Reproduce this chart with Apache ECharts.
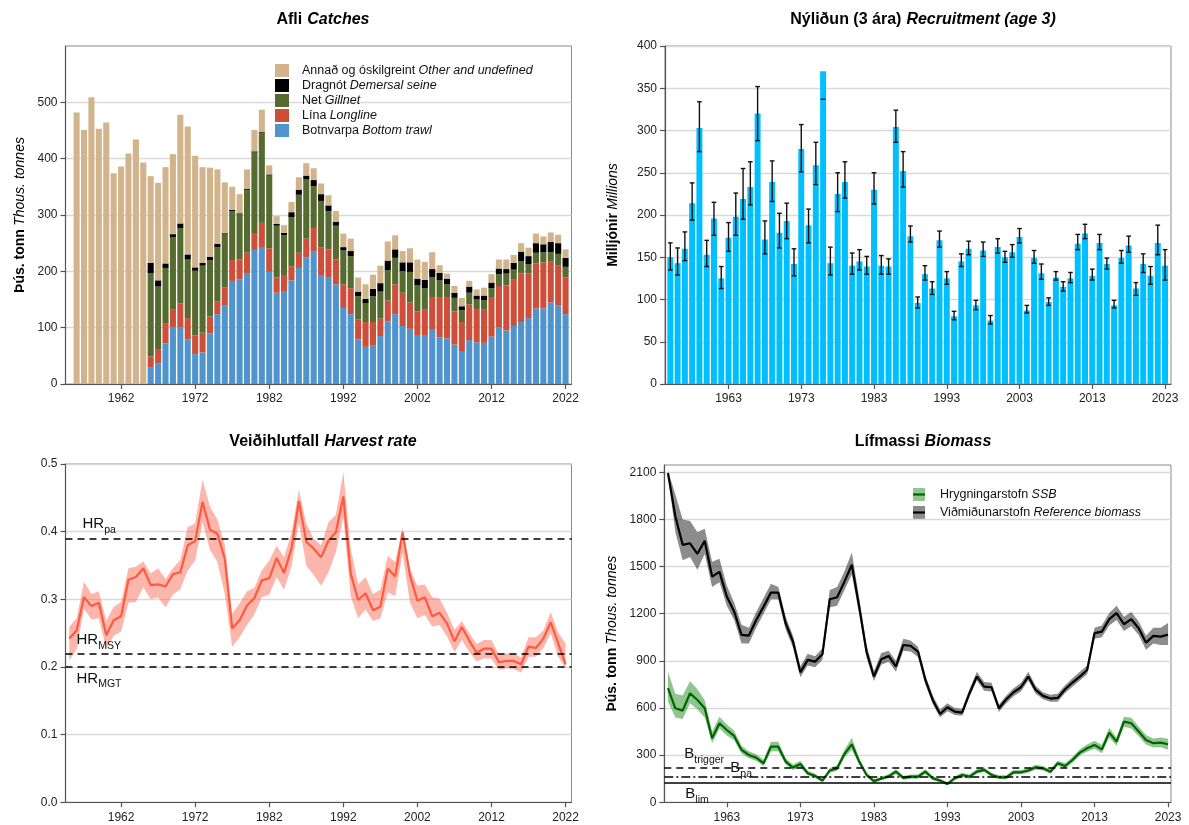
<!DOCTYPE html>
<html>
<head>
<meta charset="utf-8">
<script src="https://cdn.jsdelivr.net/npm/echarts@6/dist/echarts.min.js"></script>
<style>
  html, body { margin: 0; padding: 0; background: #fff; }
  #chart { width: 1189px; height: 825px; }
</style>
</head>
<body>
<div id="chart"></div>
<script>
const range = (a, b) => Array.from({ length: b - a + 1 }, (_, i) => a + i)

// Afli / Catches (thous. tonnes)
const catchYears = range(1956, 2022)
const gearYears = range(1966, 2022)
const catchOther = [
  482, 451, 509, 453, 464, 374, 386, 409, 434, 393,
  154, 173, 171, 142, 193, 227, 198, 170, 158, 132,
  90, 41, 34, 35, 38, 40, 16, 14, 14, 18,
  22, 22, 21, 19, 18, 19, 24, 22, 25, 26,
  25, 31, 34, 25, 20, 25, 34, 32, 30, 14,
  9, 12, 15, 10, 11, 14, 15, 16, 17, 14,
  15, 15, 17, 14, 17, 15, 15,
]
const catchTrawl = [
  30, 36, 72, 100, 100, 79, 53, 56, 90, 124,
  140, 183, 186, 197, 238, 243, 199, 162, 165, 184,
  206, 225, 235, 192, 190, 177, 135, 124, 79, 66,
  69, 85, 111, 124, 103, 98, 87, 87, 96, 83,
  81, 70, 57, 78, 74, 73, 84, 100, 95, 103,
  110, 117, 134, 134, 145, 140, 124,
]
const catchLongline = [
  19, 26, 35, 33, 43, 38, 33, 35, 30, 23,
  31, 37, 35, 36, 30, 43, 42, 27, 27, 25,
  27, 33, 42, 50, 49, 44, 42, 46, 36, 44,
  41, 31, 37, 53, 59, 47, 42, 46, 57, 70,
  72, 59, 53, 63, 59, 60, 69, 74, 80, 82,
  86, 79, 80, 82, 72, 71, 65,
]
const catchGillnet = [
  148, 111, 99, 128, 134, 104, 115, 119, 100, 96,
  96, 87, 80, 111, 143, 159, 129, 92, 72, 87,
  103, 105, 74, 83, 68, 60, 60, 57, 41, 33,
  46, 48, 54, 47, 38, 54, 46, 37, 37, 31,
  24, 24, 21, 21, 17, 16, 17, 21, 21, 18,
  22, 17, 19, 18, 17, 20, 19,
]
const catchSeine = [
  18, 11, 8, 5, 8, 9, 6, 5, 6, 6,
  1, 2, 2, 2, 2, 2, 2, 3, 4, 9,
  9, 7, 11, 12, 10, 7, 6, 9, 8, 8,
  13, 15, 17, 15, 16, 17, 12, 15, 14, 13,
  10, 9, 7, 11, 7, 8, 10, 10, 8, 12,
  17, 14, 17, 14, 18, 19, 16,
]
const catchTicks = [1962, 1972, 1982, 1992, 2002, 2012, 2022]
const catchAxisTicks = [0, 100, 200, 300, 400, 500]

// Nýliðun / Recruitment, age 3 (millions)
const recYears = range(1955, 2023)
const recruitment = [
  150, 143, 160, 214, 303, 153, 196, 125, 173, 198,
  219, 233, 320, 171, 239, 179, 193, 142, 278, 188,
  259, 370, 143, 225, 239, 140, 145, 139, 230, 140,
  139, 304, 252, 175, 96, 130, 113, 170, 125, 80,
  145, 160, 93, 158, 75, 162, 150, 156, 174, 87,
  149, 131, 97, 126, 115, 125, 166, 178, 128, 167,
  142, 93, 149, 164, 113, 142, 128, 167, 140,
]
const recLow = [
  135, 129, 146, 194, 275, 139, 176, 113, 157, 176,
  195, 212, 288, 154, 216, 161, 172, 128, 251, 167,
  236, 337, 129, 204, 220, 130, 135, 130, 213, 130,
  130, 286, 233, 168, 90, 123, 106, 162, 118, 76,
  139, 153, 88, 151, 71, 155, 144, 150, 167, 84,
  143, 124, 93, 123, 110, 120, 159, 172, 123, 159,
  136, 90, 143, 156, 105, 132, 118, 153, 123,
]
const recHigh = [
  167, 161, 180, 238, 334, 170, 215, 139, 191, 226,
  255, 263, 352, 193, 264, 202, 214, 160, 307, 207,
  286, null, 162, 250, 263, 155, 159, 151, 250, 152,
  148, 324, 275, 187, 103, 140, 121, 181, 133, 86,
  154, 169, 99, 168, 81, 172, 157, 165, 184, 93,
  158, 142, 102, 133, 121, 132, 177, 189, 136, 177,
  149, 99, 158, 175, 120, 154, 139, 188, 159,
]
const recTicks = [1963, 1973, 1983, 1993, 2003, 2013, 2023]

// Veiðihlutfall / Harvest rate
const hrYears = range(1955, 2022)
const harvestRate = [
  0.242, 0.254, 0.303, 0.290, 0.295, 0.247, 0.269, 0.275, 0.329, 0.333,
  0.346, 0.321, 0.322, 0.319, 0.337, 0.340, 0.380, 0.386, 0.444, 0.403,
  0.397, 0.360, 0.257, 0.269, 0.291, 0.302, 0.328, 0.331, 0.361, 0.339,
  0.375, 0.445, 0.385, 0.375, 0.362, 0.387, 0.399, 0.452, 0.338, 0.299,
  0.309, 0.284, 0.289, 0.345, 0.334, 0.399, 0.335, 0.298, 0.303, 0.275,
  0.280, 0.264, 0.238, 0.259, 0.239, 0.221, 0.227, 0.227, 0.207, 0.209,
  0.209, 0.204, 0.230, 0.228, 0.242, 0.266, 0.235, 0.204,
]
const hrLow = [
  0.210, 0.226, 0.286, 0.270, 0.272, 0.227, 0.246, 0.252, 0.295, 0.296,
  0.318, 0.300, 0.303, 0.288, 0.307, 0.315, 0.343, 0.357, 0.414, 0.373,
  0.355, 0.308, 0.230, 0.244, 0.262, 0.278, 0.303, 0.307, 0.333, 0.314,
  0.348, 0.414, 0.350, 0.336, 0.320, 0.340, 0.370, 0.421, 0.305, 0.272,
  0.285, 0.268, 0.272, 0.310, 0.305, 0.368, 0.295, 0.272, 0.277, 0.260,
  0.262, 0.245, 0.222, 0.240, 0.222, 0.208, 0.213, 0.212, 0.196, 0.198,
  0.197, 0.192, 0.215, 0.215, 0.228, 0.250, 0.215, 0.198,
]
const hrHigh = [
  0.259, 0.272, 0.326, 0.308, 0.312, 0.268, 0.289, 0.296, 0.346, 0.348,
  0.356, 0.338, 0.346, 0.330, 0.346, 0.358, 0.407, 0.412, 0.477, 0.437,
  0.418, 0.381, 0.279, 0.294, 0.312, 0.317, 0.343, 0.357, 0.379, 0.362,
  0.398, 0.462, 0.412, 0.390, 0.380, 0.414, 0.425, 0.488, 0.375, 0.322,
  0.333, 0.308, 0.314, 0.364, 0.355, 0.405, 0.345, 0.320, 0.322, 0.303,
  0.301, 0.280, 0.255, 0.268, 0.250, 0.234, 0.240, 0.240, 0.218, 0.220,
  0.220, 0.214, 0.244, 0.244, 0.254, 0.281, 0.251, 0.235,
]
const hrPa = 0.39
const hrMsy = 0.22
const hrMgt = 0.20

// Lífmassi / Biomass (thous. tonnes)
const bioYears = range(1955, 2023)
const refBiomass = [
  2094, 1820, 1638, 1648, 1581, 1663, 1436, 1466, 1309, 1214,
  1065, 1061, 1160, 1245, 1334, 1334, 1139, 1023, 827, 906,
  895, 942, 1292, 1305, 1404, 1511, 1244, 958, 800, 910,
  931, 864, 1001, 995, 959, 779, 651, 562, 605, 577,
  571, 694, 800, 736, 732, 598, 656, 700, 732, 800,
  715, 677, 660, 664, 719, 762, 800, 842, 1076, 1086,
  1165, 1203, 1133, 1165, 1107, 1016, 1059, 1054, 1067,
]
const refLow = [
  2080, 1720, 1540, 1560, 1480, 1580, 1370, 1400, 1250, 1160,
  1010, 1010, 1110, 1200, 1290, 1290, 1100, 985, 795, 870,
  860, 905, 1240, 1250, 1350, 1450, 1200, 920, 770, 875,
  895, 830, 965, 960, 925, 750, 625, 540, 580, 555,
  550, 670, 775, 710, 705, 575, 630, 675, 705, 775,
  690, 655, 640, 640, 695, 735, 775, 815, 1040, 1050,
  1125, 1160, 1090, 1120, 1065, 970, 1010, 1000, 1000,
]
const refHigh = [
  2110, 1960, 1800, 1790, 1720, 1740, 1530, 1550, 1380, 1270,
  1130, 1110, 1210, 1300, 1390, 1370, 1180, 1060, 865, 945,
  930, 980, 1350, 1370, 1470, 1590, 1300, 1000, 835, 950,
  965, 900, 1040, 1030, 990, 810, 680, 590, 630, 600,
  595, 720, 830, 765, 760, 620, 680, 725, 760, 830,
  740, 700, 685, 690, 745, 790, 830, 870, 1110, 1125,
  1205, 1250, 1180, 1210, 1150, 1060, 1110, 1110, 1140,
]
const ssb = [
  726, 598, 583, 694, 651, 598, 407, 503, 460, 422,
  333, 301, 284, 248, 354, 354, 259, 221, 244, 185,
  168, 138, 202, 216, 308, 369, 259, 175, 135, 150,
  165, 195, 155, 163, 163, 195, 153, 138, 117, 153,
  174, 163, 195, 206, 174, 159, 159, 191, 191, 202,
  223, 216, 195, 248, 231, 269, 316, 344, 365, 337,
  443, 386, 513, 503, 450, 397, 376, 380, 369,
]
const ssbLow = [
  640, 540, 530, 630, 590, 540, 375, 470, 425, 395,
  310, 280, 265, 230, 325, 325, 240, 205, 225, 172,
  155, 128, 188, 200, 285, 335, 240, 162, 125, 140,
  153, 180, 143, 150, 150, 180, 141, 127, 107, 141,
  161, 150, 181, 192, 161, 147, 147, 178, 178, 188,
  208, 202, 182, 232, 215, 252, 297, 322, 340, 312,
  413, 360, 480, 470, 420, 368, 348, 350, 335,
]
const ssbHigh = [
  830, 690, 680, 770, 720, 650, 450, 545, 495, 455,
  360, 325, 305, 270, 385, 385, 280, 240, 265, 200,
  182, 150, 218, 235, 335, 410, 280, 190, 147, 162,
  178, 210, 168, 177, 177, 211, 166, 150, 128, 166,
  188, 177, 210, 221, 188, 172, 172, 205, 205, 217,
  239, 231, 209, 265, 248, 288, 337, 368, 392, 364,
  475, 412, 545, 538, 483, 428, 406, 412, 405,
]
const bioAxisTicks = [0, 300, 600, 900, 1200, 1500, 1800, 2100]
const bTrigger = 220
const bPa = 160
const bLim = 125

const FONT = '"Liberation Sans", Arial, Helvetica, sans-serif'
const gridLine = '#d9d9d9'
const axisColor = '#555'

const chart = echarts.init(document.getElementById('chart'))

// a rectangle from base to top at one year, width taken from the axis scale
function renderSpanBar(params, api) {
  const x = api.value(0)
  const base = api.coord([x, api.value(1)])
  const top = api.coord([x, api.value(2)])
  const w = api.size([1, 0])[0] * 0.82
  return {
    type: 'rect',
    shape: { x: top[0] - w / 2, y: top[1], width: w, height: base[1] - top[1] },
    style: { fill: api.visual('color') },
  }
}

function renderErrorBar(params, api) {
  const x = api.value(0)
  const lo = api.coord([x, api.value(1)])
  const hiVal = api.value(2)
  const cap = api.size([1, 0])[0] * 0.32
  const stroke = { stroke: '#111', lineWidth: 1.4 }
  const children = [
    { type: 'line', shape: { x1: lo[0] - cap, y1: lo[1], x2: lo[0] + cap, y2: lo[1] }, style: stroke },
  ]
  if (!isNaN(hiVal) && hiVal !== null) {
    const hi = api.coord([x, hiVal])
    children.push({ type: 'line', shape: { x1: lo[0], y1: lo[1], x2: hi[0], y2: hi[1] }, style: stroke })
    children.push({ type: 'line', shape: { x1: hi[0] - cap, y1: hi[1], x2: hi[0] + cap, y2: hi[1] }, style: stroke })
  }
  return { type: 'group', children }
}

function ribbon(years, lo, hi) {
  return function (params, api) {
    if (params.dataIndex !== 0) return
    const upper = years.map((y, i) => api.coord([y, hi[i]]))
    const lower = years.map((y, i) => api.coord([y, lo[i]])).reverse()
    return {
      type: 'polygon',
      shape: { points: upper.concat(lower) },
      style: { fill: api.visual('color') },
    }
  }
}

const titleRich = {
  b: { fontFamily: FONT, fontSize: 16, fontWeight: 'bold', color: '#000' },
  i: { fontFamily: FONT, fontSize: 16, fontStyle: 'italic', color: '#000' },
}
const nameRich = {
  b: { fontFamily: FONT, fontSize: 14, fontWeight: 'bold', color: '#000' },
  i: { fontFamily: FONT, fontSize: 14, fontStyle: 'italic', color: '#000' },
}
const refRich = {
  m: { fontFamily: FONT, fontSize: 15, color: '#111', lineHeight: 17, verticalAlign: 'top' },
  s: { fontFamily: FONT, fontSize: 10.5, color: '#111', lineHeight: 11, padding: [8, 0, 0, 0], verticalAlign: 'top' },
}

function xAxisFor(gridIndex, min, max, ticks) {
  return {
    gridIndex, type: 'value', min, max,
    axisLine: { onZero: false, lineStyle: { color: axisColor, width: 1.2 } },
    axisTick: { customValues: ticks, length: 5, lineStyle: { color: axisColor, width: 1.2 } },
    axisLabel: { customValues: ticks, formatter: (v) => String(v), fontFamily: FONT, fontSize: 12, color: '#222', margin: 9 },
    splitLine: { show: false },
  }
}

function yAxisFor(gridIndex, opts) {
  return Object.assign({
    gridIndex, type: 'value',
    axisLine: { show: true, onZero: false, lineStyle: { color: axisColor, width: 1.2 } },
    axisTick: { show: true, length: 5, lineStyle: { color: axisColor, width: 1.2 } },
    splitLine: { show: true, lineStyle: { color: gridLine, width: 1.3 } },
    nameLocation: 'middle', nameRotate: 90,
    nameTextStyle: { rich: nameRich },
  }, opts, {
    axisLabel: Object.assign({ fontFamily: FONT, fontSize: 12, color: '#222', margin: 8 }, opts.axisLabel),
  })
}

const grids = [
  { left: 65.5, top: 46, width: 506, height: 338 },
  { left: 665, top: 46, width: 506, height: 338 },
  { left: 65.5, top: 464, width: 506, height: 338.3 },
  { left: 664.3, top: 465, width: 506.7, height: 337.3 },
].map((g) => Object.assign({ show: true, borderColor: '#8a8a8a', borderWidth: 1, backgroundColor: 'transparent' }, g))

// stacked gear layers, bottom to top
const gears = [
  { name: 'Botnvarpa|Bottom trawl', color: '#4F94CD', years: gearYears, values: catchTrawl },
  { name: 'Lína|Longline', color: '#CD4F39', years: gearYears, values: catchLongline },
  { name: 'Net|Gillnet', color: '#556B2F', years: gearYears, values: catchGillnet },
  { name: 'Dragnót|Demersal seine', color: '#000000', years: gearYears, values: catchSeine },
  { name: 'Annað og óskilgreint|Other and undefined', color: '#D2B48C', years: catchYears, values: catchOther },
]
const cumulative = {}
const catchSeries = gears.map((g) => ({
  type: 'custom', name: g.name, xAxisIndex: 0, yAxisIndex: 0,
  itemStyle: { color: g.color },
  encode: { x: 0, y: [1, 2] },
  renderItem: renderSpanBar,
  data: g.years.map((y, i) => {
    const base = cumulative[y] || 0
    cumulative[y] = base + g.values[i]
    return [y, base, base + g.values[i]]
  }),
}))

const refLine = (value, type, label) => ({
  yAxis: value,
  lineStyle: { type, color: '#000', width: 1.6 },
  label,
})

const option = {
  animation: false,
  backgroundColor: '#fff',
  title: [
    { text: '{b|Afli} {i|Catches}', left: 318, top: 6, textAlign: 'center', textStyle: { rich: titleRich } },
    { text: '{b|Nýliðun (3 ára)} {i|Recruitment (age 3)}', left: 918, top: 6, textAlign: 'center', textStyle: { rich: titleRich } },
    { text: '{b|Veiðihlutfall} {i|Harvest rate}', left: 318, top: 428, textAlign: 'center', textStyle: { rich: titleRich } },
    { text: '{b|Lífmassi} {i|Biomass}', left: 918, top: 428, textAlign: 'center', textStyle: { rich: titleRich } },
  ],
  legend: [{
    data: gears.map((g) => g.name).reverse(),
    orient: 'vertical', left: 270, top: 59,
    icon: 'rect', itemWidth: 14, itemHeight: 13, itemGap: 2,
    selectedMode: false,
    formatter: (n) => {
      const [is, en] = n.split('|')
      return `{n|${is}} {i|${en}}`
    },
    textStyle: {
      padding: [0, 0, 0, 8],
      rich: {
        n: { fontFamily: FONT, fontSize: 12.5, color: '#111' },
        i: { fontFamily: FONT, fontSize: 12.5, color: '#111', fontStyle: 'italic' },
      },
    },
  }],
  grid: grids,
  xAxis: [
    xAxisFor(0, 1954.5, 2022.8, catchTicks),
    xAxisFor(1, 1954.27, 2023.82, recTicks),
    xAxisFor(2, 1954.5, 2022.8, catchTicks),
    xAxisFor(3, 1954.5, 2023.4, recTicks),
  ],
  yAxis: [
    yAxisFor(0, {
      min: 0, max: 600, interval: 100,
      axisTick: { show: true, customValues: catchAxisTicks, length: 5, lineStyle: { color: axisColor, width: 1.2 } },
      axisLabel: { customValues: catchAxisTicks },
      name: '{b|Þús. tonn} {i|Thous. tonnes}', nameGap: 38,
    }),
    yAxisFor(1, {
      min: 0, max: 400, interval: 50,
      name: '{b|Milljónir} {i|Millions}', nameGap: 45,
    }),
    yAxisFor(2, {
      min: 0, max: 0.5, interval: 0.1,
      axisLabel: { formatter: (v) => v.toFixed(1) },
    }),
    yAxisFor(3, {
      min: 0, max: 2146,
      axisTick: { show: true, customValues: bioAxisTicks, length: 5, lineStyle: { color: axisColor, width: 1.2 } },
      axisLabel: { customValues: bioAxisTicks, formatter: (v) => String(v) },
      name: '{b|Þús. tonn} {i|Thous. tonnes}', nameGap: 45,
    }),
  ],
  graphic: [
    { type: 'rect', shape: { x: 913, y: 488, width: 12, height: 13 }, style: { fill: 'rgba(34,139,34,0.5)' } },
    { type: 'line', shape: { x1: 913, y1: 494.5, x2: 925, y2: 494.5 }, style: { stroke: '#006400', lineWidth: 2.2 } },
    { type: 'text', x: 940, y: 494.5, style: { text: '{n|Hrygningarstofn} {i|SSB}', verticalAlign: 'middle', rich: {
      n: { fontFamily: FONT, fontSize: 12.5, fill: '#111' }, i: { fontFamily: FONT, fontSize: 12.5, fill: '#111', fontStyle: 'italic' } } } },
    { type: 'rect', shape: { x: 913, y: 506, width: 12, height: 13 }, style: { fill: 'rgba(0,0,0,0.45)' } },
    { type: 'line', shape: { x1: 913, y1: 512.5, x2: 925, y2: 512.5 }, style: { stroke: '#000', lineWidth: 2.2 } },
    { type: 'text', x: 940, y: 512.5, style: { text: '{n|Viðmiðunarstofn} {i|Reference biomass}', verticalAlign: 'middle', rich: {
      n: { fontFamily: FONT, fontSize: 12.5, fill: '#111' }, i: { fontFamily: FONT, fontSize: 12.5, fill: '#111', fontStyle: 'italic' } } } },
  ],
  series: [
    ...catchSeries,
    {
      type: 'custom', name: 'recruitment', xAxisIndex: 1, yAxisIndex: 1,
      itemStyle: { color: '#00BFFF' },
      encode: { x: 0, y: [1, 2] },
      renderItem: renderSpanBar,
      data: recYears.map((y, i) => [y, 0, recruitment[i]]),
    },
    {
      type: 'custom', name: 'recruitment CI', xAxisIndex: 1, yAxisIndex: 1,
      encode: { x: 0, y: [1, 2] },
      renderItem: renderErrorBar,
      data: recYears.map((y, i) => [y, recLow[i], recHigh[i]]),
    },
    {
      type: 'custom', name: 'hr band', xAxisIndex: 2, yAxisIndex: 2,
      itemStyle: { color: 'rgba(250,110,90,0.5)' },
      encode: { x: 0, y: [1, 2] },
      renderItem: ribbon(hrYears, hrLow, hrHigh),
      data: hrYears.map((y, i) => [y, hrLow[i], hrHigh[i]]),
    },
    {
      type: 'line', name: 'harvest rate', xAxisIndex: 2, yAxisIndex: 2,
      data: hrYears.map((y, i) => [y, harvestRate[i]]),
      showSymbol: false,
      lineStyle: { color: '#FF5A3F', width: 2.2 },
      itemStyle: { color: '#FF5A3F' },
      markLine: {
        silent: true, symbol: 'none', animation: false,
        data: [
          refLine(hrPa, [7, 5], { formatter: '{m|HR}{s|pa}', position: 'insideStartTop', distance: [17, 5], rich: refRich }),
          refLine(hrMsy, [7, 5], { formatter: '{m|HR}{s|MSY}', position: 'insideStartTop', distance: [11, 4], rich: refRich }),
          refLine(hrMgt, [7, 5], { formatter: '{m|HR}{s|MGT}', position: 'insideStartBottom', distance: [11, 4], rich: refRich }),
        ],
      },
    },
    {
      type: 'custom', name: 'ref band', xAxisIndex: 3, yAxisIndex: 3,
      itemStyle: { color: 'rgba(0,0,0,0.45)' },
      encode: { x: 0, y: [1, 2] },
      renderItem: ribbon(bioYears, refLow, refHigh),
      data: bioYears.map((y, i) => [y, refLow[i], refHigh[i]]),
    },
    {
      type: 'custom', name: 'ssb band', xAxisIndex: 3, yAxisIndex: 3,
      itemStyle: { color: 'rgba(34,139,34,0.5)' },
      encode: { x: 0, y: [1, 2] },
      renderItem: ribbon(bioYears, ssbLow, ssbHigh),
      data: bioYears.map((y, i) => [y, ssbLow[i], ssbHigh[i]]),
    },
    {
      type: 'line', name: 'reference biomass', xAxisIndex: 3, yAxisIndex: 3,
      data: bioYears.map((y, i) => [y, refBiomass[i]]),
      showSymbol: false,
      lineStyle: { color: '#000', width: 2.2 },
      itemStyle: { color: '#000' },
    },
    {
      type: 'line', name: 'ssb', xAxisIndex: 3, yAxisIndex: 3,
      data: bioYears.map((y, i) => [y, ssb[i]]),
      showSymbol: false,
      lineStyle: { color: '#006400', width: 2.2 },
      itemStyle: { color: '#006400' },
      markLine: {
        silent: true, symbol: 'none', animation: false,
        data: [
          refLine(bTrigger, [7, 5], { formatter: '{m|B}{s|trigger}', position: 'insideStartTop', distance: [20, 4], rich: refRich }),
          refLine(bPa, [9, 3, 2, 3], { formatter: '{m|B}{s|pa}', position: 'insideStartTop', distance: [66, 0], rich: refRich }),
          refLine(bLim, 'solid', { formatter: '{m|B}{s|lim}', position: 'insideStartBottom', distance: [21, 4], rich: refRich }),
        ],
      },
    },
  ],
}

chart.setOption(option)
</script>
</body>
</html>
